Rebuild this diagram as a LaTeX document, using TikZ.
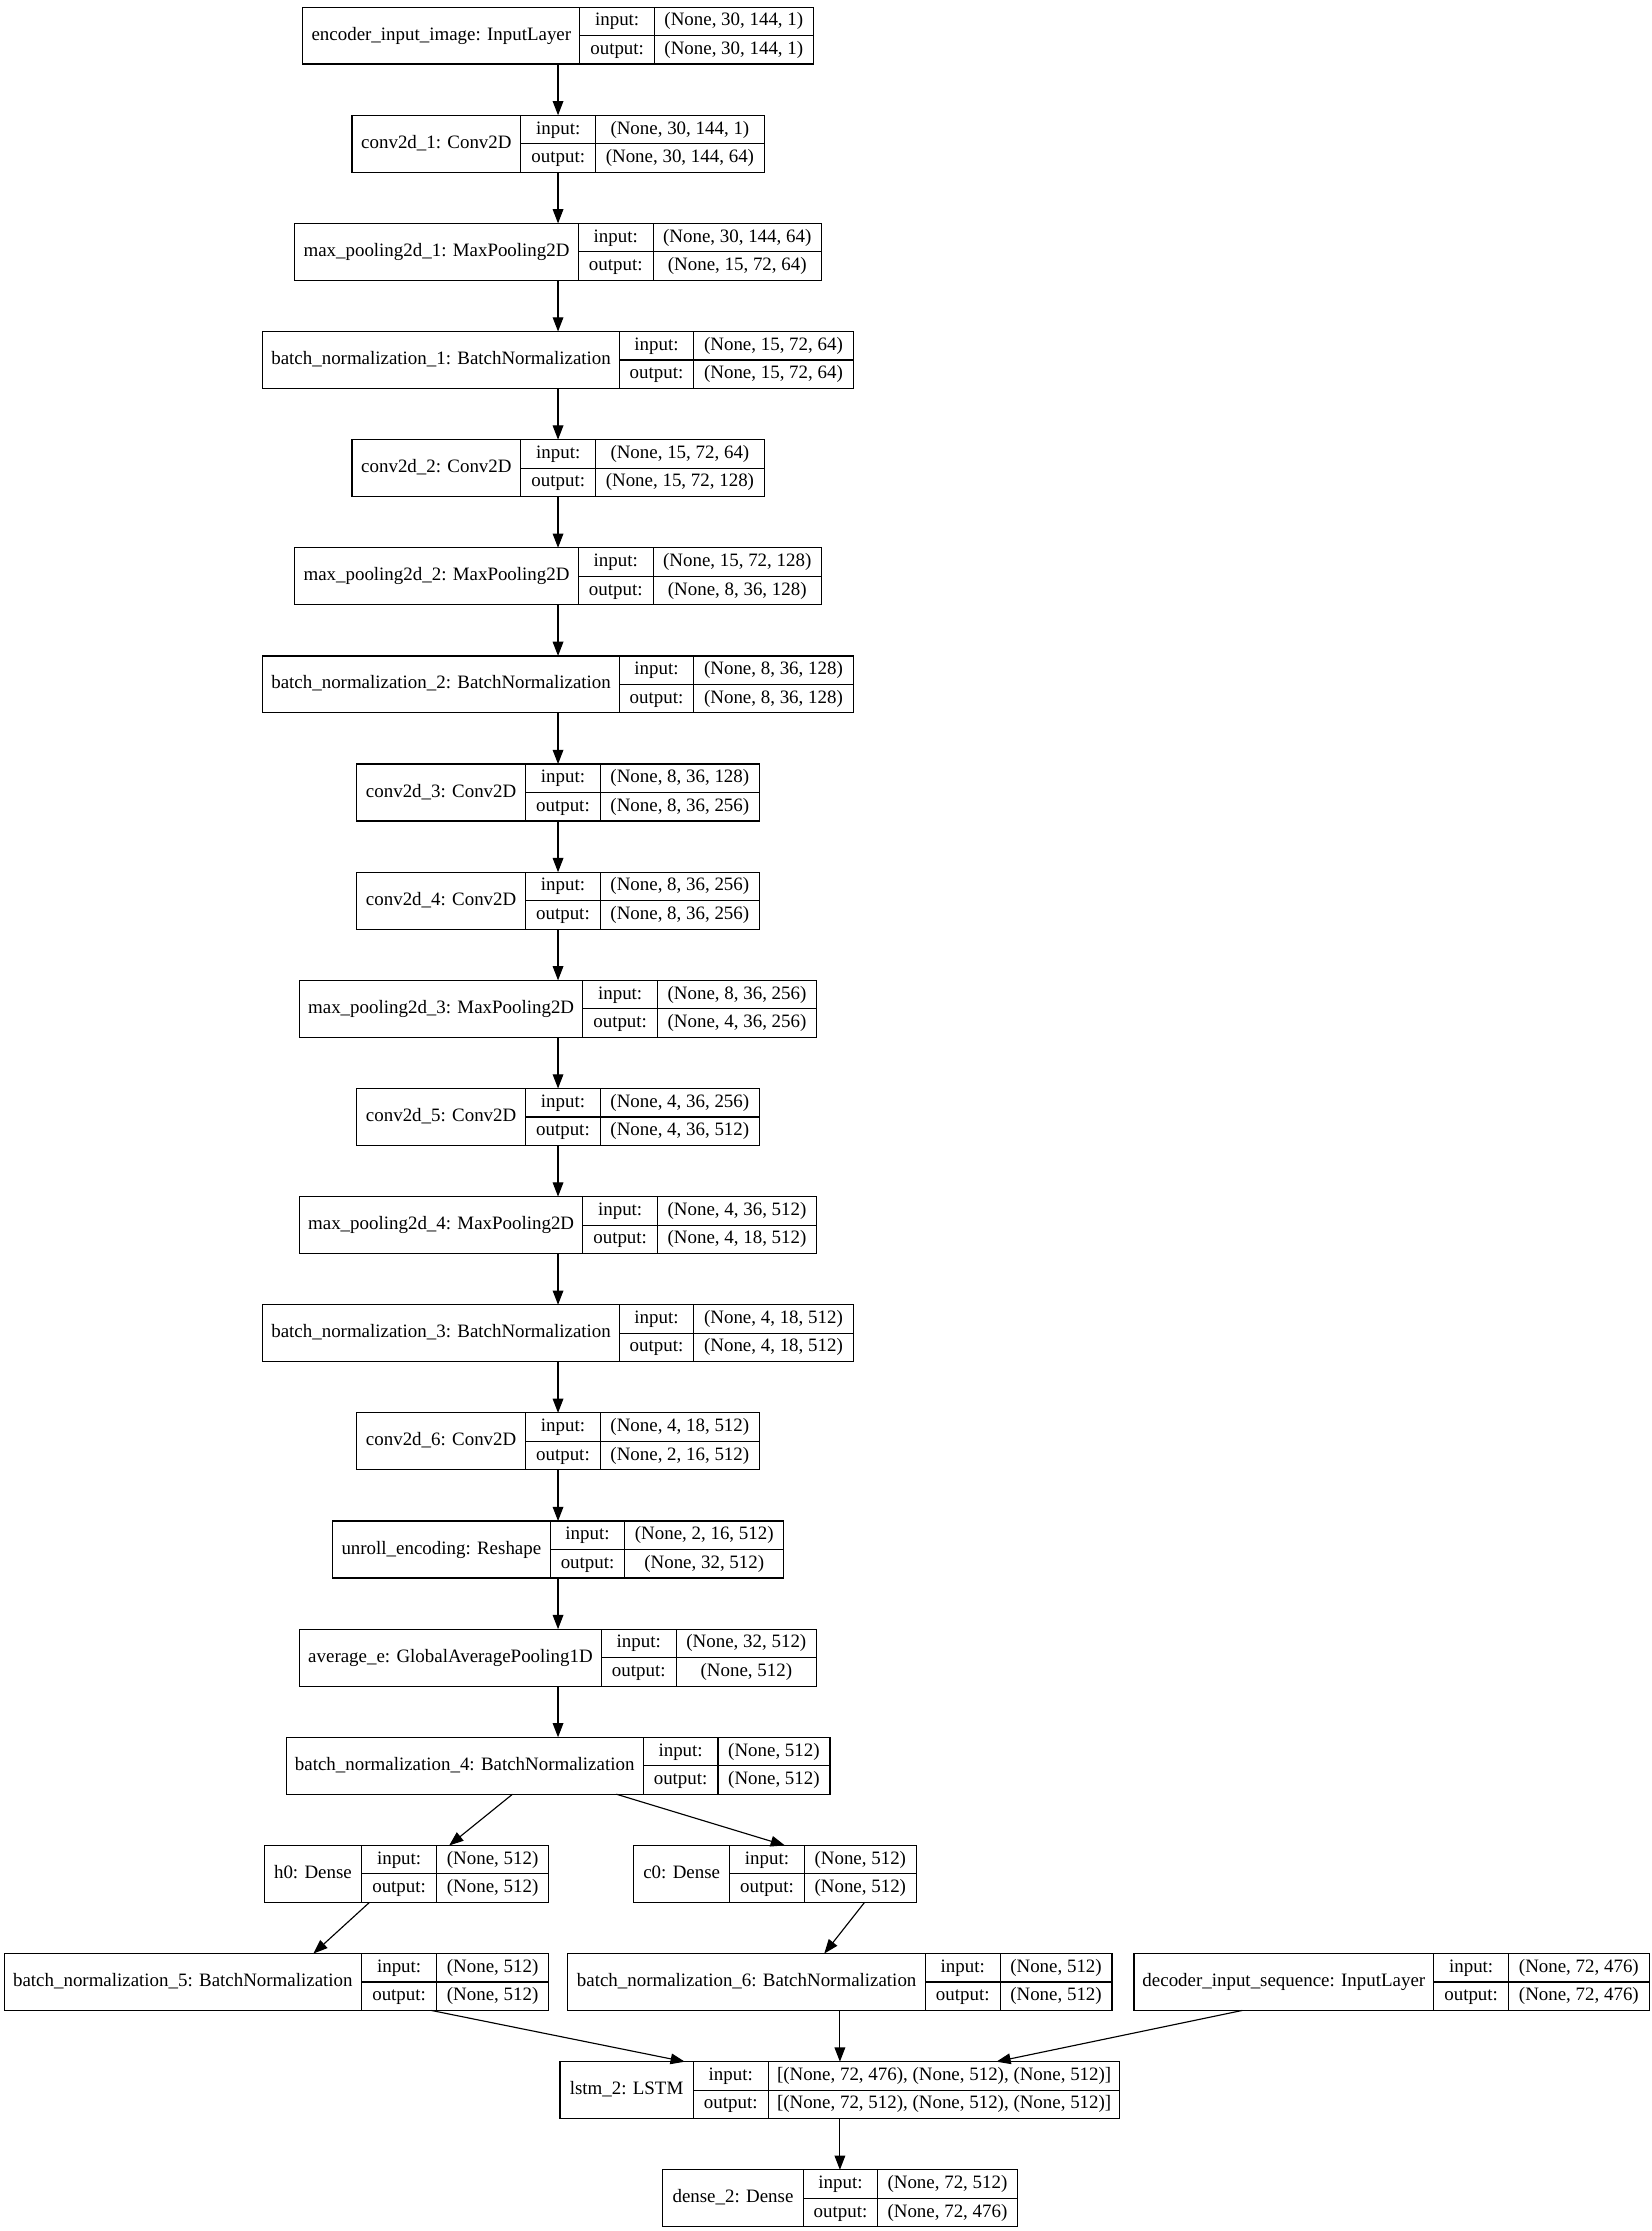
\documentclass[tikz,border=0pt]{standalone}
\usepackage{fontspec}
\setmainfont{Liberation Serif}
\usepackage{tikz}
\usetikzlibrary{arrows.meta,fit}

\newcommand{\layerbox}[9]{%
	\node[rec, fit={(#3,#2-20) (#6,#2+20)}] (#1) {};
	\draw (#4,#2-20) -- (#4,#2+20);
	\draw (#5,#2-20) -- (#5,#2+20);
	\draw (#4,#2) -- (#6,#2);
	\node[txt] (#1-lbl) at ({(#3+#4)/2},#2) {#7};
	\node[txt] (#1-ik) at ({(#4+#5)/2},#2-10) {input:};
	\node[txt] (#1-ok) at ({(#4+#5)/2},#2+10) {output:};
	\node[txt] (#1-iv) at ({(#5+#6)/2},#2-10) {#8};
	\node[txt] (#1-ov) at ({(#5+#6)/2},#2+10) {#9};
}

\begin{document}
\begin{tikzpicture}[x=1pt,y=-1pt,line width=0.8pt,
		rec/.style={draw,inner sep=0pt,outer sep=0pt},
		txt/.style={inner sep=0pt,text height=9.2pt,text depth=2.8pt,font=\fontsize{13.3}{16}\selectfont},
		arr/.style={-{Triangle[length=10pt,width=7.5pt]}}]
			\useasboundingbox (0,0) rectangle (1161,1568);
			\fill[white] (0,0) rectangle (1161,1568);
			
			\layerbox{encin}{25}{212.9}{407.5}{460}{571.5}{encoder\_input\_image: InputLayer}{(None, 30, 144, 1)}{(None, 30, 144, 1)}
			\layerbox{conva}{101}{247.4}{366}{418.7}{537}{conv2d\_1: Conv2D}{(None, 30, 144, 1)}{(None, 30, 144, 64)}
			\layerbox{poola}{177}{207.1}{406.5}{459}{577.3}{max\_pooling2d\_1: MaxPooling2D}{(None, 30, 144, 64)}{(None, 15, 72, 64)}
			\layerbox{bna}{253}{184.7}{435.3}{487.5}{599.7}{batch\_normalization\_1: BatchNormalization}{(None, 15, 72, 64)}{(None, 15, 72, 64)}
			\layerbox{convb}{329}{247.4}{366}{418.7}{537}{conv2d\_2: Conv2D}{(None, 15, 72, 64)}{(None, 15, 72, 128)}
			\layerbox{poolb}{405}{207.1}{406.5}{459}{577.3}{max\_pooling2d\_2: MaxPooling2D}{(None, 15, 72, 128)}{(None, 8, 36, 128)}
			\layerbox{bnb}{481}{184.7}{435.3}{487.5}{599.7}{batch\_normalization\_2: BatchNormalization}{(None, 8, 36, 128)}{(None, 8, 36, 128)}
			\layerbox{convc}{557}{250.7}{369.4}{421.9}{533.7}{conv2d\_3: Conv2D}{(None, 8, 36, 128)}{(None, 8, 36, 256)}
			\layerbox{convd}{633}{250.7}{369.4}{421.9}{533.7}{conv2d\_4: Conv2D}{(None, 8, 36, 256)}{(None, 8, 36, 256)}
			\layerbox{poolc}{709}{210.5}{409.6}{462.1}{573.9}{max\_pooling2d\_3: MaxPooling2D}{(None, 8, 36, 256)}{(None, 4, 36, 256)}
			\layerbox{conve}{785}{250.7}{369.4}{421.9}{533.7}{conv2d\_5: Conv2D}{(None, 4, 36, 256)}{(None, 4, 36, 512)}
			\layerbox{poold}{861}{210.5}{409.6}{462.1}{573.9}{max\_pooling2d\_4: MaxPooling2D}{(None, 4, 36, 512)}{(None, 4, 18, 512)}
			\layerbox{bnc}{937}{184.7}{435.3}{487.5}{599.7}{batch\_normalization\_3: BatchNormalization}{(None, 4, 18, 512)}{(None, 4, 18, 512)}
			\layerbox{convf}{1013}{250.7}{369.4}{421.9}{533.7}{conv2d\_6: Conv2D}{(None, 4, 18, 512)}{(None, 2, 16, 512)}
			\layerbox{unroll}{1089}{233.7}{386.7}{439.2}{550.7}{unroll\_encoding: Reshape}{(None, 2, 16, 512)}{(None, 32, 512)}
			\layerbox{avge}{1165}{210.5}{422.7}{475.2}{573.9}{average\_e: GlobalAveragePooling1D}{(None, 32, 512)}{(None, 512)}
			\layerbox{bnd}{1241}{201.1}{452.1}{504.6}{583.3}{batch\_normalization\_4: BatchNormalization}{(None, 512)}{(None, 512)}
			\layerbox{hzero}{1317}{185.9}{254}{307}{385.5}{h0: Dense}{(None, 512)}{(None, 512)}
			\layerbox{czero}{1317}{445.3}{512.9}{565.3}{644}{c0: Dense}{(None, 512)}{(None, 512)}
			\layerbox{bne}{1393}{3}{254}{307}{385.5}{batch\_normalization\_5: BatchNormalization}{(None, 512)}{(None, 512)}
			\layerbox{bnf}{1393}{399.1}{650.4}{702.9}{781.5}{batch\_normalization\_6: BatchNormalization}{(None, 512)}{(None, 512)}
			\layerbox{decin}{1393}{797}{1007.6}{1060.3}{1159}{decoder\_input\_sequence: InputLayer}{(None, 72, 476)}{(None, 72, 476)}
			\layerbox{lstm}{1469}{393.6}{487.1}{540.1}{787}{lstm\_2: LSTM}{[(None, 72, 476), (None, 512), (None, 512)]}{[(None, 72, 512), (None, 512), (None, 512)]}
			\layerbox{dense}{1545}{465.6}{564.7}{616.8}{715}{dense\_2: Dense}{(None, 72, 512)}{(None, 72, 476)}
			
			\draw[arr] (encin) -- (conva);
			\draw[arr] (conva) -- (poola);
			\draw[arr] (poola) -- (bna);
			\draw[arr] (bna) -- (convb);
			\draw[arr] (convb) -- (poolb);
			\draw[arr] (poolb) -- (bnb);
			\draw[arr] (bnb) -- (convc);
			\draw[arr] (convc) -- (convd);
			\draw[arr] (convd) -- (poolc);
			\draw[arr] (poolc) -- (conve);
			\draw[arr] (conve) -- (poold);
			\draw[arr] (poold) -- (bnc);
			\draw[arr] (bnc) -- (convf);
			\draw[arr] (convf) -- (unroll);
			\draw[arr] (unroll) -- (avge);
			\draw[arr] (avge) -- (bnd);
			\draw[arr] ([xshift=-32pt]bnd.south) -- ([xshift=30pt]hzero.north);
			\draw[arr] ([xshift=41pt]bnd.south) -- ([xshift=7pt]czero.north);
			\draw[arr] ([xshift=-26pt]hzero.south) -- ([xshift=26pt]bne.north);
			\draw[arr] ([xshift=63pt]czero.south) -- ([xshift=-11pt]bnf.north);
			\draw[arr] ([xshift=109pt]bne.south) -- ([xshift=-109pt]lstm.north);
			\draw[arr] (bnf) -- (lstm);
			\draw[arr] ([xshift=-105pt]decin.south) -- ([xshift=110pt]lstm.north);
			\draw[arr] (lstm) -- (dense);
			
		\end{tikzpicture}
\end{document}
